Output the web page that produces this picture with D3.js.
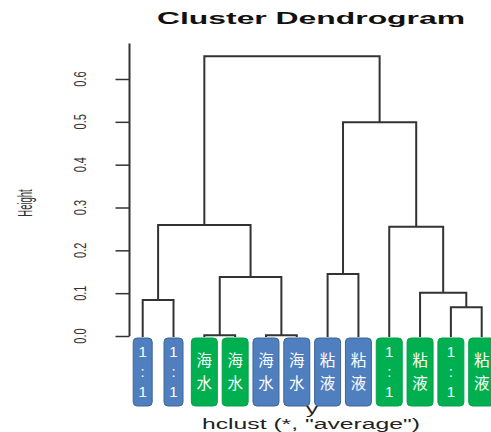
<!DOCTYPE html>
<html>
<head>
<meta charset="utf-8">
<script src="https://cdn.jsdelivr.net/npm/d3@7"></script>
<style>
  body { margin: 0; background: #fff; }
  svg { display: block; }
</style>
</head>
<body>
<div id="chart"></div>
<script>
// leaves, left to right as drawn
var leafLabels = ["1:1", "1:1", "海水", "海水", "海水", "海水", "粘液", "粘液", "1:1", "粘液", "1:1", "粘液"];
var leafGroups = ["blue", "blue", "green", "green", "blue", "blue", "blue", "blue", "green", "green", "green", "green"];

// hclust style merge table: negative = leaf (1-based), positive = earlier merge
var mergeLeft    = [-3, -5, -11, -1, -10, 1, -7, -9, 4, 7, 9];
var mergeRight   = [-4, -6, -12, -2, 3, 2, -8, 5, 6, 8, 10];
var mergeHeights = [0.002, 0.002, 0.067, 0.084, 0.101, 0.138, 0.145, 0.255, 0.259, 0.499, 0.653];

var heightTicks = [0, 0.1, 0.2, 0.3, 0.4, 0.5, 0.6];
var axisTop = 0.683;

var W = 491, H = 432;
var colors = { blue: "#4f7fbe", green: "#00b050" };
var borders = { blue: "#3e6696", green: "#00a448" };

var svg = d3.select("#chart").append("svg")
    .attr("width", W)
    .attr("height", H);

var x = d3.scalePoint()
    .domain(d3.range(leafLabels.length))
    .range([142.7, 481.7]);

var y = d3.scaleLinear()
    .domain([0, 0.6])
    .range([336, 79]);

// title
svg.append("text")
    .attr("x", 311)
    .attr("y", 24)
    .attr("text-anchor", "middle")
    .attr("textLength", 308)
    .attr("lengthAdjust", "spacingAndGlyphs")
    .style("font-family", "Liberation Sans, Arial, sans-serif")
    .style("font-weight", "bold")
    .style("font-size", "16px")
    .style("fill", "#111")
    .text("Cluster Dendrogram");

// y axis
var yAxis = d3.axisLeft(y)
    .tickValues(heightTicks)
    .tickSize(14)
    .tickFormat("");

var axisG = svg.append("g")
    .attr("transform", "translate(129.5,0)")
    .call(yAxis);
axisG.select(".domain").remove();
axisG.selectAll(".tick line").attr("stroke", "#333").attr("stroke-width", 1.5);
axisG.append("line")
    .attr("x1", 0).attr("x2", 0)
    .attr("y1", y(0)).attr("y2", y(axisTop))
    .attr("stroke", "#333")
    .attr("stroke-width", 2);

svg.selectAll(".ylab")
    .data(heightTicks)
    .enter().append("text")
    .attr("class", "ylab")
    .attr("transform", function(d) { return "translate(80," + y(d) + ") scale(1.5,1) rotate(-90)"; })
    .attr("text-anchor", "middle")
    .attr("dy", "0.36em")
    .style("font-family", "Liberation Sans, Arial, sans-serif")
    .style("font-size", "11px")
    .style("fill", "#333")
    .text(function(d) { return d3.format(".1f")(d); });

svg.append("text")
    .attr("transform", "translate(25,203) scale(2.1,1) rotate(-90)")
    .attr("text-anchor", "middle")
    .attr("dy", "0.36em")
    .style("font-family", "Liberation Sans, Arial, sans-serif")
    .style("font-size", "9.5px")
    .style("fill", "#333")
    .text("Height");

// build merge nodes
var nodes = [];
function childPos(id) {
    if (id < 0) return { x: x(-id - 1), h: null };
    return nodes[id - 1];
}
mergeHeights.forEach(function(h, i) {
    var l = childPos(mergeLeft[i]), r = childPos(mergeRight[i]);
    nodes.push({ x: (l.x + r.x) / 2, h: h, l: l, r: r });
});

var leafBottom = y(0) + 1;
function yOf(c) { return c.h === null ? leafBottom : y(c.h); }

svg.append("g").selectAll("path")
    .data(nodes)
    .enter().append("path")
    .attr("d", function(n) {
        return "M" + n.l.x + "," + yOf(n.l) +
               "V" + y(n.h) +
               "H" + n.r.x +
               "V" + yOf(n.r);
    })
    .attr("fill", "none")
    .attr("stroke", "#333")
    .attr("stroke-width", 2);

// label boxes
var boxTop = 338, boxBottom = 406;
var leaves = svg.append("g").selectAll("g")
    .data(leafLabels.map(function(lab, i) { return { label: lab, group: leafGroups[i], i: i }; }))
    .enter().append("g")
    .attr("transform", function(d) { return "translate(" + x(d.i) + ",0)"; });

function boxWidth(d) { return (d.label === "1:1" && d.group === "blue") ? 19 : 26; }

leaves.append("rect")
    .attr("x", function(d) { return -boxWidth(d) / 2; })
    .attr("y", boxTop)
    .attr("width", boxWidth)
    .attr("height", boxBottom - boxTop)
    .attr("rx", 4)
    .attr("fill", function(d) { return colors[d.group]; })
    .attr("stroke", function(d) { return borders[d.group]; })
    .attr("stroke-width", 1);

// stacked characters inside each box
leaves.each(function(d) {
    var chars = d.label.split("");
    var g = d3.select(this);
    var latin = chars.length === 3;
    var step = latin ? 20 : 23;
    var start = latin ? 352 : 360;
    chars.forEach(function(c, k) {
        g.append("text")
            .attr("x", 0)
            .attr("y", start + k * step)
            .attr("dy", "0.36em")
            .attr("text-anchor", "middle")
            .style("font-family", latin ? "Liberation Sans, Arial, sans-serif" : "Noto Sans CJK SC, sans-serif")
            .style("font-size", latin ? "15px" : "15.5px")
            .style("fill", "#fff")
            .text(c);
    });
});

// x labels
svg.append("text")
    .attr("x", 312)
    .attr("y", 414)
    .attr("text-anchor", "middle")
    .attr("textLength", 12)
    .attr("lengthAdjust", "spacingAndGlyphs")
    .style("font-family", "Liberation Sans, Arial, sans-serif")
    .style("font-size", "14px")
    .style("fill", "#222")
    .text("y");

svg.append("text")
    .attr("x", 311)
    .attr("y", 429)
    .attr("text-anchor", "middle")
    .attr("textLength", 218)
    .attr("lengthAdjust", "spacingAndGlyphs")
    .style("font-family", "Liberation Sans, Arial, sans-serif")
    .style("font-size", "14px")
    .style("fill", "#222")
    .text("hclust (*, \"average\")");
</script>
</body>
</html>
